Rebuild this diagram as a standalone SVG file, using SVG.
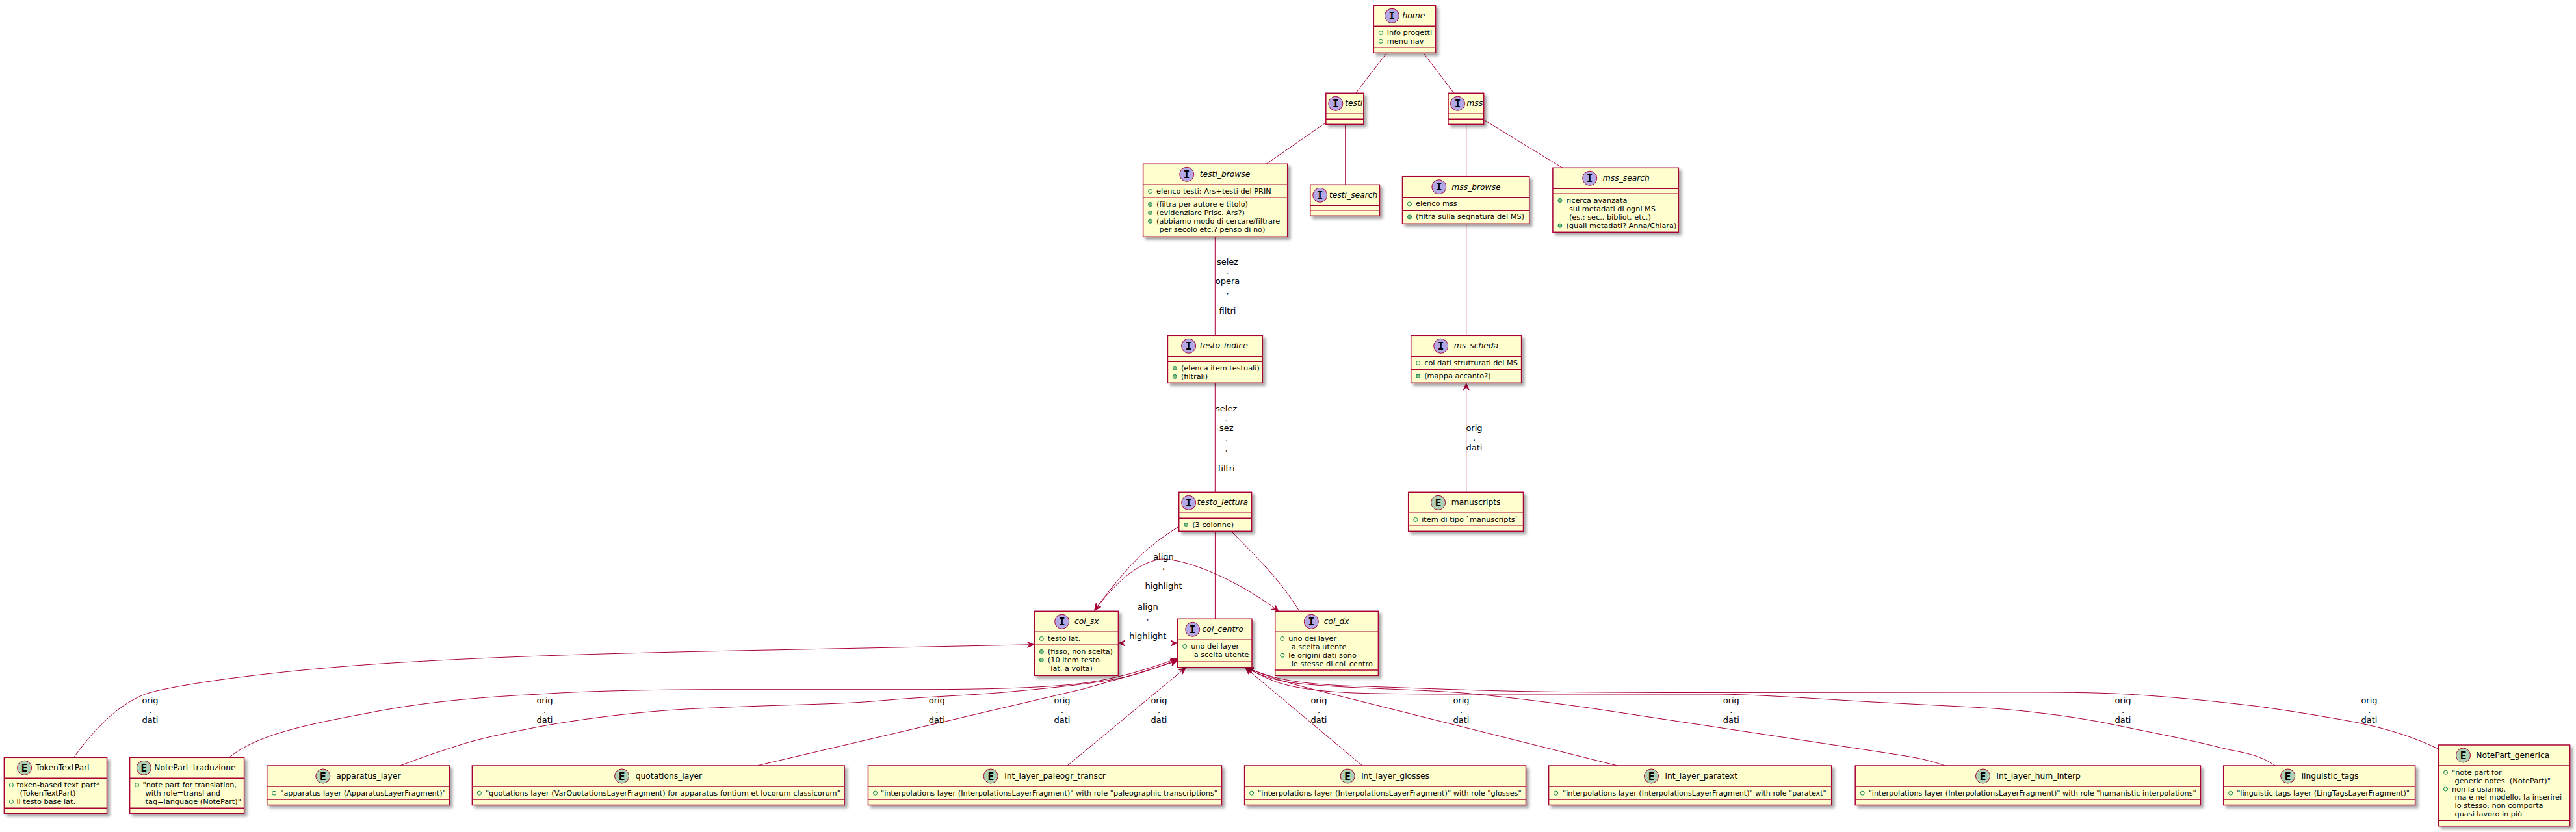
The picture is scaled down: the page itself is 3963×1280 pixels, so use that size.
<svg xmlns="http://www.w3.org/2000/svg" width="3963" height="1280" viewBox="0 0 3963 1280">
<style>
text{font-family:"DejaVu Sans",sans-serif;fill:#000;white-space:pre}
.b{fill:#FEFECE;stroke:#A80036;stroke-width:1.5;filter:url(#sh)}
.s{fill:none;stroke:#A80036;stroke-width:1.5}
.ci{fill:#B4A7E5;stroke:#A80036;stroke-width:1}
.ce{fill:#ADD1B2;stroke:#A80036;stroke-width:1}
.l{font-family:"DejaVu Sans Mono",monospace;font-weight:bold;font-size:16px;text-anchor:middle}
.t{font-size:12.3px}
.it{font-size:12.3px;font-style:oblique}
.r{font-size:11.3px}
.f{fill:none;stroke:#038048;stroke-width:1}
.m{fill:#84BE84;stroke:#038048;stroke-width:1}
.c path{fill:none;stroke:#A80036;stroke-width:1}
.a{marker-end:url(#ah)}
.aa{marker-end:url(#ah);marker-start:url(#ah)}
.lb{font-size:13px;text-anchor:middle}
</style>
<defs>
<filter id="sh" x="-10%" y="-10%" width="125%" height="130%"><feDropShadow dx="4" dy="4" stdDeviation="2" flood-color="#000" flood-opacity="0.35"/></filter>
<marker id="ah" markerUnits="userSpaceOnUse" markerWidth="14" markerHeight="12" viewBox="-11 -6 13 12" refX="0" refY="0" orient="auto-start-reverse"><path d="M0,0L-10,-4.5L-6,0L-10,4.5Z" fill="#A80036" stroke="#A80036" stroke-width="1"/></marker>
</defs>
<rect width="3963" height="1280" fill="#fff"/>
<g id="connectors" class="c">
<path d="M2133.4,81.3L2085.8,143.3"/>
<path d="M2189.7,81.3L2236.7,143.3"/>
<path d="M2039.8,188.7L1948,252.3"/>
<path d="M2069.7,191.3V284.3"/>
<path d="M2255.7,191.3V271.7"/>
<path d="M2282.7,184.3L2403.8,258.3"/>
<path d="M1869.3,364.3V516.3"/>
<path d="M1869.3,589.3V757.3"/>
<path d="M2255.7,344.3V516.3"/>
<path class="a" d="M2255.7,757.3V590"/>
<path class="a" d="M1812.8,810.7C1765,840 1735,870 1683.7,939"/>
<path class="aa" d="M1684,939C1710,905 1745,866 1786.7,860C1825,860 1900,890 1966.8,940"/>
<path d="M1869.4,817.3V952.3"/>
<path d="M1894.4,817.3C1925,850 1965,885 1999,940.3"/>
<path class="aa" d="M1721,989.5H1811"/>
<path class="a" d="M113.5,1165.3C150,1115 185,1083 223,1068C270,1052 450,1028 638,1018C760,1011 900,1006 1100,1001.7L1590.5,991.7"/>
<path class="a" d="M352.7,1165.3C400,1125 500,1110 587,1093C670,1078 750,1072 829,1068C900,1063 1000,1061 1100,1060.7L1419,1060.7C1520,1060.7 1620,1058 1674,1050C1715,1044 1760,1032 1811,1013"/>
<path class="a" d="M615.4,1178C650,1165 670,1158 701.5,1148C740,1135 780,1128 829,1118C900,1105 1000,1092 1100,1089C1200,1084 1290,1084 1355,1078C1420,1072 1490,1070 1546,1065C1600,1060 1690,1052 1738,1040C1765,1033 1790,1023 1811,1015"/>
<path class="a" d="M1165.8,1177.7L1666.5,1060Q1740,1040 1811,1017"/>
<path class="a" d="M1642.2,1177.7L1824,1027.5"/>
<path class="a" d="M2095.6,1177.7L1916,1027.5"/>
<path class="a" d="M2487.2,1177.7L2018,1060Q1965,1047 1918,1027.5"/>
<path class="a" d="M2992.9,1178.3C2960,1166 2930,1163 2900,1158L2451,1090C2380,1080 2330,1074 2271,1068C2200,1060 2060,1060 1985,1050C1960,1046 1940,1040 1918,1027.5"/>
<path class="a" d="M3500.7,1178.3C3475,1160 3450,1158 3422,1151.7C3370,1138 3310,1127 3252.5,1115C3215,1107 3175,1101 3137,1096.7C3100,1092 3070,1090 3035.6,1088L2900,1081C2820,1077 2720,1069 2646,1068L2232,1068C2170,1068 2110,1067 2082,1066C2040,1064 1990,1060 1958,1047C1945,1042 1930,1034 1918,1027.5"/>
<path class="a" d="M3751.5,1152.3C3695,1125 3640,1113 3578,1103C3545,1097 3510,1092 3476,1087C3400,1078 3340,1072 3273,1068C3220,1065 3160,1065 3103,1065L2563,1065.5C2480,1065 2400,1065 2315,1063C2230,1061 2140,1057 2066,1055C2030,1053 2000,1050 1983,1046.7C1960,1043 1940,1036 1918,1027.5"/>
<g id="edge-labels">
<text class="lb" x="1888.5" y="406.7">selez</text><text class="lb" x="1888.5" y="422">.</text><text class="lb" x="1888.5" y="437.3">opera</text><text class="lb" x="1888.5" y="452.6">,</text><text class="lb" x="1888.5" y="483.3">filtri</text>
<text class="lb" x="1886.7" y="632.7">selez</text><text class="lb" x="1886.7" y="648">.</text><text class="lb" x="1886.7" y="663.3">sez</text><text class="lb" x="1886.7" y="678.6">.</text><text class="lb" x="1886.7" y="694">,</text><text class="lb" x="1886.7" y="724.6">filtri</text>
<text class="lb" x="2268" y="663">orig</text><text class="lb" x="2268" y="678">.</text><text class="lb" x="2268" y="693">dati</text>
<text class="lb" x="1790" y="860.7">align</text><text class="lb" x="1790" y="876">,</text><text class="lb" x="1790" y="906">highlight</text>
<text class="lb" x="1765.8" y="938.3">align</text><text class="lb" x="1765.8" y="953.6">,</text><text class="lb" x="1765.8" y="983">highlight</text>
<text class="lb" x="231" y="1081.5">orig</text><text class="lb" x="231" y="1096.7">.</text><text class="lb" x="231" y="1112">dati</text>
<text class="lb" x="838" y="1081.5">orig</text><text class="lb" x="838" y="1096.7">.</text><text class="lb" x="838" y="1112">dati</text>
<text class="lb" x="1441.3" y="1081.5">orig</text><text class="lb" x="1441.3" y="1096.7">.</text><text class="lb" x="1441.3" y="1112">dati</text>
<text class="lb" x="1634" y="1081.5">orig</text><text class="lb" x="1634" y="1096.7">.</text><text class="lb" x="1634" y="1112">dati</text>
<text class="lb" x="1783" y="1081.5">orig</text><text class="lb" x="1783" y="1096.7">.</text><text class="lb" x="1783" y="1112">dati</text>
<text class="lb" x="2029" y="1081.5">orig</text><text class="lb" x="2029" y="1096.7">.</text><text class="lb" x="2029" y="1112">dati</text>
<text class="lb" x="2248" y="1081.5">orig</text><text class="lb" x="2248" y="1096.7">.</text><text class="lb" x="2248" y="1112">dati</text>
<text class="lb" x="2663.3" y="1081.5">orig</text><text class="lb" x="2663.3" y="1096.7">.</text><text class="lb" x="2663.3" y="1112">dati</text>
<text class="lb" x="3266" y="1081.5">orig</text><text class="lb" x="3266" y="1096.7">.</text><text class="lb" x="3266" y="1112">dati</text>
<text class="lb" x="3645" y="1081.5">orig</text><text class="lb" x="3645" y="1096.7">.</text><text class="lb" x="3645" y="1112">dati</text>
</g>
</g>
<g id="home" transform="translate(2113.3,8.3)"><rect class="b" width="95.3" height="73"/><path class="s" d="M0,32H95.3M0,64.4H95.3"/><circle class="ci" cx="28.1" cy="16" r="11"/><text class="l" x="28.1" y="21.5">I</text><text class="it" x="44.2" y="20">home</text>
<circle class="f" cx="11" cy="42.2" r="3"/><text class="r" x="20.5" y="45.7">info progetti</text><circle class="f" cx="11" cy="55.1" r="3"/><text class="r" x="20.5" y="58.6">menu nav</text></g>
<g id="testi" transform="translate(2039.8,143.3)"><rect class="b" width="58" height="48"/><path class="s" d="M0,32H58M0,40H58"/><circle class="ci" cx="15" cy="16" r="11"/><text class="l" x="15" y="21.5">I</text><text class="it" x="29.3" y="20">testi</text></g>
<g id="mss" transform="translate(2228,143.3)"><rect class="b" width="54.7" height="48"/><path class="s" d="M0,32H54.7M0,40H54.7"/><circle class="ci" cx="14.5" cy="16" r="11"/><text class="l" x="14.5" y="21.5">I</text><text class="it" x="28.3" y="20">mss</text></g>
<g id="testi_browse" transform="translate(1758.6,252.3)"><rect class="b" width="222.1" height="112"/><path class="s" d="M0,32H222.1M0,52H222.1"/><circle class="ci" cx="67.1" cy="16" r="11"/><text class="l" x="67.1" y="21.5">I</text><text class="it" x="87.2" y="20">testi_browse</text>
<circle class="f" cx="11" cy="42.2" r="3"/><text class="r" x="20.5" y="45.7">elenco testi: Ars+testi del PRIN</text>
<circle class="m" cx="11" cy="62.2" r="3"/><text class="r" x="20.5" y="65.7">(filtra per autore e titolo)</text><circle class="m" cx="11" cy="75.1" r="3"/><text class="r" x="20.5" y="78.6">(evidenziare Prisc. Ars?)</text><circle class="m" cx="11" cy="88" r="3"/><text class="r" x="20.5" y="91.5">(abbiamo modo di cercare/filtrare</text><text class="r" x="25" y="104.4">per secolo etc.? penso di no)</text></g>
<g id="testi_search" transform="translate(2015.7,284.3)"><rect class="b" width="106.8" height="48"/><path class="s" d="M0,32H106.8M0,40H106.8"/><circle class="ci" cx="15" cy="16" r="11"/><text class="l" x="15" y="21.5">I</text><text class="it" x="29.3" y="20">testi_search</text></g>
<g id="mss_browse" transform="translate(2157.5,271.7)"><rect class="b" width="195.2" height="72.6"/><path class="s" d="M0,32H195.2M0,52H195.2"/><circle class="ci" cx="56.3" cy="16" r="11"/><text class="l" x="56.3" y="21.5">I</text><text class="it" x="75.8" y="20">mss_browse</text>
<circle class="f" cx="11" cy="42.2" r="3"/><text class="r" x="20.5" y="45.7">elenco mss</text><circle class="m" cx="11" cy="62.2" r="3"/><text class="r" x="20.5" y="65.7">(filtra sulla segnatura del MS)</text></g>
<g id="mss_search" transform="translate(2388.9,258.3)"><rect class="b" width="193.4" height="99"/><path class="s" d="M0,32H193.4M0,40H193.4"/><circle class="ci" cx="56.8" cy="16" r="11"/><text class="l" x="56.8" y="21.5">I</text><text class="it" x="76.9" y="20">mss_search</text>
<circle class="m" cx="11" cy="50.2" r="3"/><text class="r" x="20.5" y="53.7">ricerca avanzata</text><text class="r" x="25" y="66.6">sui metadati di ogni MS</text><text class="r" x="25" y="79.5">(es.: sec., bibliot. etc.)</text><circle class="m" cx="11" cy="88.9" r="3"/><text class="r" x="20.5" y="92.4">(quali metadati? Anna/Chiara)</text></g>
<g id="testo_indice" transform="translate(1796.4,516.3)"><rect class="b" width="145.9" height="73"/><path class="s" d="M0,32H145.9M0,40H145.9"/><circle class="ci" cx="32.2" cy="16" r="11"/><text class="l" x="32.2" y="21.5">I</text><text class="it" x="49.4" y="20">testo_indice</text>
<circle class="m" cx="11" cy="50.2" r="3"/><text class="r" x="20.5" y="53.7">(elenca item testuali)</text><circle class="m" cx="11" cy="63.1" r="3"/><text class="r" x="20.5" y="66.6">(filtrali)</text></g>
<g id="ms_scheda" transform="translate(2170.7,516.3)"><rect class="b" width="169.9" height="73"/><path class="s" d="M0,32H169.9M0,52.4H169.9"/><circle class="ci" cx="46" cy="16" r="11"/><text class="l" x="46" y="21.5">I</text><text class="it" x="66" y="20">ms_scheda</text>
<circle class="f" cx="11" cy="42.2" r="3"/><text class="r" x="20.5" y="45.7">coi dati strutturati del MS</text><circle class="m" cx="11" cy="62.5" r="3"/><text class="r" x="20.5" y="66">(mappa accanto?)</text></g>
<g id="testo_lettura" transform="translate(1813.7,757.3)"><rect class="b" width="111.9" height="60"/><path class="s" d="M0,32H111.9M0,40H111.9"/><circle class="ci" cx="14.9" cy="16" r="11"/><text class="l" x="14.9" y="21.5">I</text><text class="it" x="28.1" y="20">testo_lettura</text>
<circle class="m" cx="11" cy="50.2" r="3"/><text class="r" x="20.5" y="53.7">(3 colonne)</text></g>
<g id="manuscripts" transform="translate(2166.7,757.3)"><rect class="b" width="176.8" height="60"/><path class="s" d="M0,32H176.8M0,52H176.8"/><circle class="ce" cx="45.9" cy="16" r="11"/><text class="l" x="45.9" y="21.5">E</text><text class="t" x="66" y="20">manuscripts</text>
<circle class="f" cx="11" cy="42.2" r="3"/><text class="r" x="20.5" y="45.7">item di tipo `manuscripts`</text></g>
<g id="col_sx" transform="translate(1591.3,940.3)"><rect class="b" width="129.1" height="99"/><path class="s" d="M0,32H129.1M0,52H129.1"/><circle class="ci" cx="42.4" cy="16" r="11"/><text class="l" x="42.4" y="21.5">I</text><text class="it" x="61.7" y="20">col_sx</text>
<circle class="f" cx="11" cy="42.2" r="3"/><text class="r" x="20.5" y="45.7">testo lat.</text><circle class="m" cx="11" cy="62.2" r="3"/><text class="r" x="20.5" y="65.7">(fisso, non scelta)</text><circle class="m" cx="11" cy="75.1" r="3"/><text class="r" x="20.5" y="78.6">(10 item testo</text><text class="r" x="25" y="91.5">lat. a volta)</text></g>
<g id="col_centro" transform="translate(1811.7,952.3)"><rect class="b" width="114.3" height="74.4"/><path class="s" d="M0,32H114.3M0,66H114.3"/><circle class="ci" cx="23" cy="16" r="11"/><text class="l" x="23" y="21.5">I</text><text class="it" x="37.8" y="20">col_centro</text>
<circle class="f" cx="11" cy="42.2" r="3"/><text class="r" x="20.5" y="45.7">uno dei layer</text><text class="r" x="25" y="58.6">a scelta utente</text></g>
<g id="col_dx" transform="translate(1961.7,940.3)"><rect class="b" width="158.7" height="99"/><path class="s" d="M0,32H158.7M0,90.7H158.7"/><circle class="ci" cx="55.6" cy="16" r="11"/><text class="l" x="55.6" y="21.5">I</text><text class="it" x="75" y="20">col_dx</text>
<circle class="f" cx="11" cy="42.2" r="3"/><text class="r" x="20.5" y="45.7">uno dei layer</text><text class="r" x="25" y="58.6">a scelta utente</text><circle class="f" cx="11" cy="68" r="3"/><text class="r" x="20.5" y="71.5">le origini dati sono</text><text class="r" x="25" y="84.4">le stesse di col_centro</text></g>
<g id="TokenTextPart" transform="translate(6.4,1165.3)"><rect class="b" width="158.1" height="86"/><path class="s" d="M0,32H158.1M0,78H158.1"/><circle class="ce" cx="31.2" cy="16" r="11"/><text class="l" x="31.2" y="21.5">E</text><text class="t" x="48.4" y="20">TokenTextPart</text>
<circle class="f" cx="11" cy="42.2" r="3"/><text class="r" x="19" y="45.7">token-based text part*</text><text class="r" x="24" y="58.6">(TokenTextPart)</text><circle class="f" cx="11" cy="68" r="3"/><text class="r" x="19" y="71.5">il testo base lat.</text></g>
<g id="NotePart_traduzione" transform="translate(199.6,1165.3)"><rect class="b" width="176" height="86"/><path class="s" d="M0,32H176M0,78H176"/><circle class="ce" cx="21.7" cy="16" r="11"/><text class="l" x="21.7" y="21.5">E</text><text class="t" x="37.6" y="20">NotePart_traduzione</text>
<circle class="f" cx="11" cy="42.2" r="3"/><text class="r" x="20" y="45.7">"note part for translation,</text><text class="r" x="24" y="58.6">with role=transl and</text><text class="r" x="24" y="71.5">tag=language (NotePart)"</text></g>
<g id="apparatus_layer" transform="translate(410.7,1178)"><rect class="b" width="280.6" height="60.5"/><path class="s" d="M0,32H280.6M0,52H280.6"/><circle class="ce" cx="86.1" cy="16" r="11"/><text class="l" x="86.1" y="21.5">E</text><text class="t" x="106.5" y="20">apparatus_layer</text>
<circle class="f" cx="11" cy="42.2" r="3"/><text class="r" x="20.5" y="45.7" textLength="254.5" lengthAdjust="spacingAndGlyphs">"apparatus layer (ApparatusLayerFragment)"</text></g>
<g id="quotations_layer" transform="translate(726.4,1178)"><rect class="b" width="572.7" height="60.5"/><path class="s" d="M0,32H572.7M0,52H572.7"/><circle class="ce" cx="230.2" cy="16" r="11"/><text class="l" x="230.2" y="21.5">E</text><text class="t" x="251.3" y="20">quotations_layer</text>
<circle class="f" cx="11" cy="42.2" r="3"/><text class="r" x="20.5" y="45.7" textLength="546" lengthAdjust="spacingAndGlyphs">"quotations layer (VarQuotationsLayerFragment) for apparatus fontium et locorum classicorum"</text></g>
<g id="int_layer_paleogr_transcr" transform="translate(1335.5,1178)"><rect class="b" width="544" height="60.5"/><path class="s" d="M0,32H544M0,52H544"/><circle class="ce" cx="188.7" cy="16" r="11"/><text class="l" x="188.7" y="21.5">E</text><text class="t" x="209.8" y="20">int_layer_paleogr_transcr</text>
<circle class="f" cx="11" cy="42.2" r="3"/><text class="r" x="19.5" y="45.7" textLength="518" lengthAdjust="spacingAndGlyphs">"interpolations layer (InterpolationsLayerFragment)" with role "paleographic transcriptions"</text></g>
<g id="int_layer_glosses" transform="translate(1914.6,1178)"><rect class="b" width="432.9" height="60.5"/><path class="s" d="M0,32H432.9M0,52H432.9"/><circle class="ce" cx="158.6" cy="16" r="11"/><text class="l" x="158.6" y="21.5">E</text><text class="t" x="179.6" y="20">int_layer_glosses</text>
<circle class="f" cx="11" cy="42.2" r="3"/><text class="r" x="20.5" y="45.7" textLength="405.6" lengthAdjust="spacingAndGlyphs">"interpolations layer (InterpolationsLayerFragment)" with role "glosses"</text></g>
<g id="int_layer_paratext" transform="translate(2382.6,1178)"><rect class="b" width="435.1" height="60.5"/><path class="s" d="M0,32H435.1M0,52H435.1"/><circle class="ce" cx="157.9" cy="16" r="11"/><text class="l" x="157.9" y="21.5">E</text><text class="t" x="179" y="20">int_layer_paratext</text>
<circle class="f" cx="11" cy="42.2" r="3"/><text class="r" x="21.5" y="45.7" textLength="405.6" lengthAdjust="spacingAndGlyphs">"interpolations layer (InterpolationsLayerFragment)" with role "paratext"</text></g>
<g id="int_layer_hum_interp" transform="translate(2854.2,1178)"><rect class="b" width="531.2" height="60.5"/><path class="s" d="M0,32H531.2M0,52H531.2"/><circle class="ce" cx="196.3" cy="16" r="11"/><text class="l" x="196.3" y="21.5">E</text><text class="t" x="217.3" y="20">int_layer_hum_interp</text>
<circle class="f" cx="11" cy="42.2" r="3"/><text class="r" x="20.5" y="45.7" textLength="504" lengthAdjust="spacingAndGlyphs">"interpolations layer (InterpolationsLayerFragment)" with role "humanistic interpolations"</text></g>
<g id="linguistic_tags" transform="translate(3420.7,1178)"><rect class="b" width="294.9" height="60.5"/><path class="s" d="M0,32H294.9M0,52H294.9"/><circle class="ce" cx="99" cy="16" r="11"/><text class="l" x="99" y="21.5">E</text><text class="t" x="120" y="20">linguistic_tags</text>
<circle class="f" cx="11" cy="42.2" r="3"/><text class="r" x="20.5" y="45.7" textLength="265.8" lengthAdjust="spacingAndGlyphs">"linguistic tags layer (LingTagsLayerFragment)"</text></g>
<g id="NotePart_generica" transform="translate(3751.5,1146)"><rect class="b" width="202.1" height="124.7"/><path class="s" d="M0,32H202.1M0,116.3H202.1"/><circle class="ce" cx="38" cy="16" r="11"/><text class="l" x="38" y="21.5">E</text><text class="t" x="57.7" y="20">NotePart_generica</text>
<circle class="f" cx="11" cy="42.2" r="3"/><text class="r" x="20.5" y="45.7">"note part for</text><text class="r" x="25" y="58.6">generic notes  (NotePart)"</text><circle class="f" cx="11" cy="68" r="3"/><text class="r" x="20.5" y="71.5">non la usiamo,</text><text class="r" x="25" y="84.4">ma è nel modello; la inserirei</text><text class="r" x="25" y="97.3">lo stesso: non comporta</text><text class="r" x="25" y="110.2">quasi lavoro in più</text></g>
</svg>
